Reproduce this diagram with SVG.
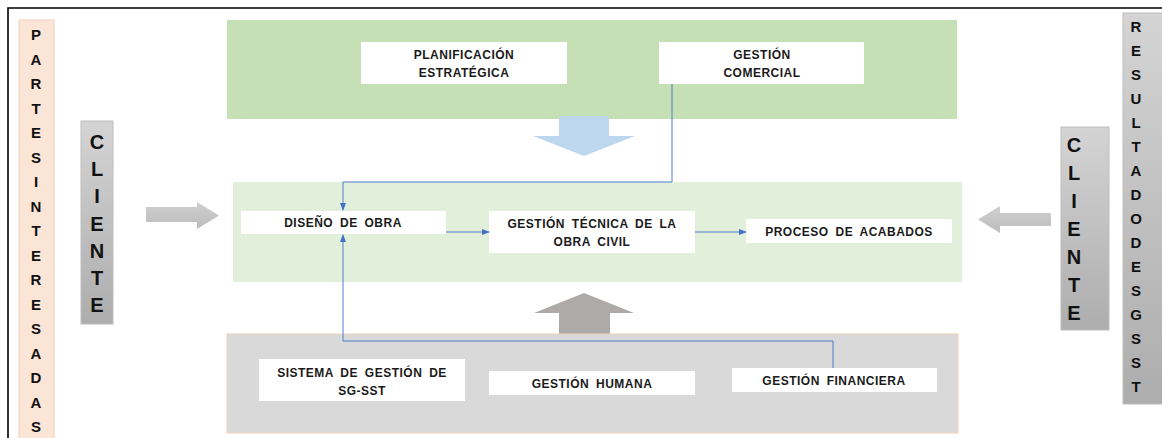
<svg xmlns="http://www.w3.org/2000/svg" width="1162" height="438" viewBox="0 0 1162 438">
<defs>
<linearGradient id="gGray" x1="0" y1="0" x2="0" y2="1"><stop offset="0" stop-color="#d4d4d4"/><stop offset="1" stop-color="#adadad"/></linearGradient>
<linearGradient id="gArrow" x1="0" y1="0" x2="0" y2="1"><stop offset="0" stop-color="#d0d0d0"/><stop offset="1" stop-color="#bcbcbc"/></linearGradient>
<marker id="ah" markerWidth="8" markerHeight="6" refX="7" refY="3" orient="auto" markerUnits="userSpaceOnUse"><path d="M0,0 L8,3 L0,6 Z" fill="#4472c4"/></marker>
<style>
.box{fill:#fff}
.t{font-family:"Liberation Sans",Arial,sans-serif;font-weight:bold;font-size:12px;letter-spacing:0.5px;word-spacing:3px;fill:#1a1a1a;text-anchor:middle}
.v{font-family:"Liberation Sans",Arial,sans-serif;font-weight:bold;fill:#111;text-anchor:middle}
.c{fill:none;stroke:#4f7ccc;stroke-width:1}
</style>
</defs>
<rect width="1162" height="438" fill="#fff"/>
<path d="M8,438 V8 H1162" fill="none" stroke="#000" stroke-width="1.6"/>

<g id="partes">
<rect x="19" y="20" width="35" height="420" fill="#fbe5d6" stroke="#f2cdb8" stroke-width="1"/>
<text class="v" font-size="15">
<tspan x="36" y="40">P</tspan><tspan x="36" y="64.5">A</tspan><tspan x="36" y="89">R</tspan><tspan x="36" y="113.5">T</tspan><tspan x="36" y="138">E</tspan><tspan x="36" y="162.5">S</tspan><tspan x="36" y="187">I</tspan><tspan x="36" y="211.5">N</tspan><tspan x="36" y="236">T</tspan><tspan x="36" y="260.5">E</tspan><tspan x="36" y="285">R</tspan><tspan x="36" y="309.5">E</tspan><tspan x="36" y="334">S</tspan><tspan x="36" y="358.5">A</tspan><tspan x="36" y="383">D</tspan><tspan x="36" y="407.5">A</tspan><tspan x="36" y="432">S</tspan>
</text>
</g>

<g id="cliente-left">
<rect x="81" y="121" width="32" height="203" fill="url(#gGray)" stroke="#bdbdbd"/>
<text class="v" font-size="20">
<tspan x="97" y="149">C</tspan><tspan x="97" y="176.2">L</tspan><tspan x="97" y="203.4">I</tspan><tspan x="97" y="230.6">E</tspan><tspan x="97" y="257.8">N</tspan><tspan x="97" y="285">T</tspan><tspan x="97" y="312.2">E</tspan>
</text>
</g>

<g id="cliente-right">
<rect x="1061" y="127" width="48" height="203" fill="url(#gGray)" stroke="#bdbdbd"/>
<text class="v" font-size="20">
<tspan x="1074" y="152">C</tspan><tspan x="1074" y="180">L</tspan><tspan x="1074" y="208">I</tspan><tspan x="1074" y="236">E</tspan><tspan x="1074" y="264">N</tspan><tspan x="1074" y="292">T</tspan><tspan x="1074" y="320">E</tspan>
</text>
</g>

<g id="resultados">
<rect x="1123" y="13" width="45" height="391" fill="url(#gGray)" stroke="#bdbdbd"/>
<text class="v" font-size="15">
<tspan x="1136" y="32">R</tspan><tspan x="1136" y="56">E</tspan><tspan x="1136" y="80">S</tspan><tspan x="1136" y="104">U</tspan><tspan x="1136" y="128">L</tspan><tspan x="1136" y="152">T</tspan><tspan x="1136" y="176">A</tspan><tspan x="1136" y="200">D</tspan><tspan x="1136" y="224">O</tspan><tspan x="1136" y="248">D</tspan><tspan x="1136" y="272">E</tspan><tspan x="1136" y="296">S</tspan><tspan x="1136" y="320">G</tspan><tspan x="1136" y="344">S</tspan><tspan x="1136" y="368">S</tspan><tspan x="1136" y="392">T</tspan>
</text>
</g>

<g id="arrow-left-in">
<path d="M146,207 H197 V202 L219,215.5 L197,229 V222 H146 Z" fill="url(#gArrow)"/>
</g>
<g id="arrow-right-in">
<path d="M1051,213 H1000 V206 L978,219.5 L1000,233 V226 H1051 Z" fill="url(#gArrow)"/>
</g>

<g id="band-top">
<rect x="227" y="20" width="730" height="99" fill="#c5e0b4"/>
</g>
<g id="arrow-down">
<path d="M559,116 H609 V136 H635 L584,156 L533,136 H559 Z" fill="#bdd7ee"/>
</g>
<g id="band-mid">
<rect x="233" y="182" width="729" height="100" fill="#e2efda"/>
</g>
<g id="arrow-up">
<path d="M559,334 V313 H534 L584,293 L634,313 H610 V334 Z" fill="#aeaaaa"/>
</g>
<g id="band-bottom">
<rect x="227" y="334" width="731" height="99" fill="#d9d9d9" stroke="#f6d0b8" stroke-width="1"/>
</g>

<g id="planificacion">
<rect class="box" x="361" y="42" width="206" height="42"/>
<text class="t"><tspan x="464" y="59">PLANIFICACIÓN</tspan><tspan x="464" y="77">ESTRATÉGICA</tspan></text>
</g>
<g id="gestion-comercial">
<rect class="box" x="659" y="42" width="205" height="42"/>
<text class="t"><tspan x="762" y="59">GESTIÓN</tspan><tspan x="762" y="77">COMERCIAL</tspan></text>
</g>
<g id="diseno">
<rect class="box" x="241" y="211" width="205" height="23"/>
<text class="t" x="343" y="227">DISEÑO DE OBRA</text>
</g>
<g id="gestion-tecnica">
<rect class="box" x="489" y="211" width="206" height="42"/>
<text class="t"><tspan x="592" y="228">GESTIÓN TÉCNICA DE LA</tspan><tspan x="592" y="246">OBRA CIVIL</tspan></text>
</g>
<g id="proceso">
<rect class="box" x="746" y="219" width="206" height="24"/>
<text class="t" x="849" y="235.5">PROCESO DE ACABADOS</text>
</g>
<g id="sistema">
<rect class="box" x="259" y="359" width="206" height="42"/>
<text class="t"><tspan x="362" y="377">SISTEMA DE GESTIÓN DE</tspan><tspan x="362" y="395">SG-SST</tspan></text>
</g>
<g id="gestion-humana">
<rect class="box" x="489" y="371" width="206" height="24"/>
<text class="t" x="592" y="387.5">GESTIÓN HUMANA</text>
</g>
<g id="gestion-financiera">
<rect class="box" x="732" y="368" width="205" height="24"/>
<text class="t" x="834" y="384.5">GESTIÓN FINANCIERA</text>
</g>

<g id="connectors">
<path class="c" d="M672,84 V182 H343 V210" marker-end="url(#ah)"/>
<path class="c" d="M833,368 V341 H343 V235" marker-end="url(#ah)"/>
<path class="c" d="M446,232 H489" marker-end="url(#ah)"/>
<path class="c" d="M695,232 H746" marker-end="url(#ah)"/>
</g>
</svg>
